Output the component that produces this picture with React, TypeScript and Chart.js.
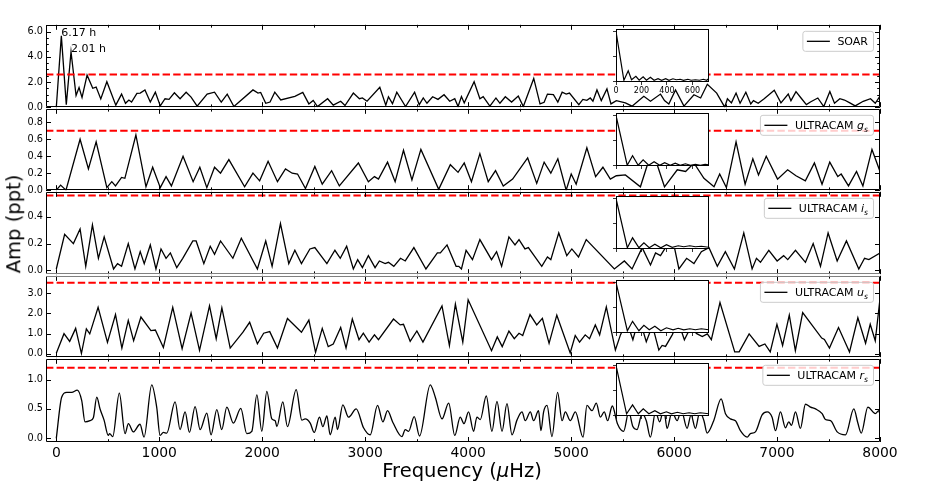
import React, { useEffect, useRef } from 'react';
import { Chart, registerables } from 'chart.js';

Chart.register(...registerables);

const FONT = "'DejaVu Sans', 'Liberation Sans', sans-serif";

// ---------------- data ----------------
const xTickValues = [0, 1000, 2000, 3000, 4000, 5000, 6000, 7000, 8000];
const xMinorTickValues = [500, 1500, 2500, 3500, 4500, 5500, 6500, 7500];
const insetTickValues = [0, 200, 400, 600];

const soarFreq = [0, 49, 97, 143, 192, 221, 250, 299, 354, 387, 432, 491, 578, 634, 672, 705, 731, 783, 815, 861, 913, 962, 1010, 1056, 1095, 1147, 1202, 1261, 1309, 1368, 1465, 1537, 1602, 1660, 1725, 1910, 1959, 1985, 2034, 2076, 2122, 2180, 2317, 2394, 2453, 2495, 2537, 2635, 2690, 2762, 2804, 2885, 2944, 2973, 3018, 3142, 3200, 3226, 3265, 3307, 3392, 3480, 3525, 3564, 3600, 3655, 3707, 3766, 3821, 3870, 3902, 3935, 3962, 4058, 4114, 4146, 4211, 4270, 4309, 4361, 4422, 4487, 4536, 4637, 4698, 4738, 4770, 4828, 4871, 4913, 4952, 4984, 5075, 5114, 5153, 5186, 5212, 5251, 5293, 5348, 5387, 5439, 5527, 5592, 5706, 5771, 5868, 5907, 5949, 6014, 6096, 6193, 6258, 6323, 6414, 6492, 6518, 6557, 6602, 6641, 6697, 6745, 6771, 6817, 6875, 6973, 7038, 7109, 7135, 7184, 7233, 7285, 7324, 7396, 7454, 7513, 7558, 7610, 7655, 7707, 7759, 7837, 7908, 7954, 8000];
const soarAmp = [0.0, 5.66, 0.2, 4.4, 0.93, 1.56, 0.78, 2.54, 1.5, 1.6, 0.65, 2.02, 0.16, 1.04, 0.31, 0.57, 0.41, 1.09, 1.12, 1.37, 0.41, 1.19, 0.1, 0.67, 0.62, 1.14, 0.67, 1.19, 0.8, 0.08, 1.04, 1.19, 0.41, 1.04, 0.05, 1.37, 1.12, 1.17, 0.31, 0.41, 1.19, 0.57, 0.86, 1.17, 0.26, 0.54, 0.05, 0.67, 0.16, 0.47, 0.13, 1.12, 0.67, 0.73, 0.47, 1.58, 0.16, 0.83, 0.28, 1.19, 0.05, 1.19, 0.2, 0.73, 0.31, 0.83, 0.62, 0.99, 0.47, 0.67, 0.05, 0.85, 0.34, 2.02, 0.67, 0.83, 0.08, 0.73, 0.31, 0.83, 0.41, 0.88, 0.05, 2.28, 0.26, 0.39, 1.04, 0.99, 0.41, 1.19, 1.04, 1.12, 0.2, 0.62, 0.54, 0.73, 0.47, 1.37, 0.52, 1.45, 0.26, 0.52, 0.34, 0.08, 0.86, 0.47, 1.04, 0.52, 0.26, 1.37, 0.08, 0.99, 0.73, 1.82, 1.12, 0.0, 0.67, 0.34, 1.12, 0.31, 1.19, 0.26, 0.52, 0.31, 0.67, 1.35, 0.34, 1.04, 0.52, 1.24, 0.73, 0.2, 0.41, 0.73, 0.05, 1.24, 0.31, 0.67, 0.57, 0.34, 0.1, 0.47, 0.67, 0.31, 0.88];

const gsFreq = [0, 42, 94, 231, 312, 387, 491, 539, 575, 634, 666, 773, 871, 936, 1010, 1066, 1118, 1231, 1329, 1394, 1462, 1537, 1595, 1676, 1829, 1910, 1975, 2057, 2148, 2226, 2291, 2343, 2420, 2511, 2583, 2674, 2749, 2934, 3031, 3090, 3129, 3217, 3291, 3372, 3454, 3541, 3714, 3827, 3902, 3962, 4032, 4114, 4195, 4266, 4341, 4432, 4578, 4666, 4738, 4803, 4871, 4952, 5001, 5049, 5153, 5238, 5309, 5381, 5439, 5527, 5673, 5754, 5836, 5907, 6031, 6112, 6193, 6290, 6388, 6443, 6508, 6602, 6690, 6765, 6820, 6895, 7005, 7103, 7184, 7275, 7363, 7437, 7512, 7590, 7623, 7694, 7772, 7834, 7922, 8000];
const gsAmp = [0.0, 0.06, 0.0, 0.6, 0.25, 0.57, 0.03, 0.1, 0.05, 0.15, 0.14, 0.65, 0.04, 0.27, 0.03, 0.16, 0.05, 0.4, 0.1, 0.27, 0.03, 0.27, 0.2, 0.36, 0.04, 0.2, 0.11, 0.34, 0.1, 0.25, 0.2, 0.19, 0.02, 0.28, 0.07, 0.23, 0.05, 0.32, 0.1, 0.16, 0.13, 0.33, 0.1, 0.47, 0.12, 0.48, 0.01, 0.3, 0.21, 0.32, 0.1, 0.43, 0.1, 0.23, 0.05, 0.13, 0.38, 0.08, 0.33, 0.2, 0.37, 0.0, 0.19, 0.07, 0.5, 0.16, 0.27, 0.13, 0.17, 0.18, 0.04, 0.35, 0.3, 0.04, 0.24, 0.22, 0.32, 0.14, 0.04, 0.19, 0.03, 0.57, 0.07, 0.37, 0.18, 0.4, 0.13, 0.24, 0.17, 0.11, 0.32, 0.07, 0.33, 0.16, 0.19, 0.05, 0.22, 0.05, 0.48, 0.22];

const isFreq = [0, 81, 166, 231, 286, 351, 409, 465, 556, 595, 634, 699, 764, 815, 854, 913, 968, 1017, 1066, 1108, 1170, 1228, 1326, 1358, 1433, 1495, 1537, 1595, 1715, 1797, 1953, 2034, 2096, 2177, 2258, 2317, 2381, 2463, 2511, 2628, 2706, 2758, 2820, 2885, 2927, 2973, 3031, 3096, 3138, 3194, 3226, 3278, 3343, 3389, 3473, 3590, 3701, 3730, 3795, 3883, 3909, 3935, 3980, 4042, 4114, 4227, 4276, 4325, 4396, 4455, 4494, 4552, 4585, 4715, 4770, 4803, 4880, 4958, 5007, 5072, 5147, 5420, 5517, 5592, 5690, 5771, 5820, 5868, 5917, 5985, 6047, 6122, 6193, 6265, 6339, 6420, 6498, 6586, 6677, 6758, 6800, 6839, 6920, 7001, 7064, 7104, 7179, 7276, 7351, 7422, 7496, 7584, 7674, 7794, 7850, 7892, 8000];
const isAmp = [0.01, 0.27, 0.2, 0.31, 0.03, 0.34, 0.09, 0.25, 0.01, 0.05, 0.03, 0.2, 0.01, 0.14, 0.05, 0.19, 0.01, 0.16, 0.09, 0.13, 0.02, 0.09, 0.22, 0.22, 0.05, 0.18, 0.12, 0.22, 0.09, 0.24, 0.01, 0.22, 0.03, 0.35, 0.05, 0.15, 0.05, 0.16, 0.17, 0.05, 0.15, 0.09, 0.18, 0.01, 0.08, 0.02, 0.11, 0.02, 0.07, 0.05, 0.06, 0.03, 0.09, 0.07, 0.17, 0.01, 0.13, 0.13, 0.19, 0.03, 0.03, 0.01, 0.15, 0.08, 0.23, 0.08, 0.14, 0.03, 0.25, 0.19, 0.23, 0.16, 0.17, 0.03, 0.1, 0.08, 0.28, 0.11, 0.16, 0.1, 0.23, 0.01, 0.07, 0.01, 0.17, 0.04, 0.13, 0.11, 0.17, 0.24, 0.01, 0.09, 0.05, 0.14, 0.17, 0.03, 0.14, 0.01, 0.28, 0.01, 0.09, 0.06, 0.15, 0.07, 0.11, 0.08, 0.15, 0.06, 0.2, 0.03, 0.28, 0.07, 0.22, 0.01, 0.09, 0.08, 0.13];

const usFreq = [0, 75, 130, 188, 244, 292, 325, 406, 497, 575, 637, 699, 751, 822, 919, 962, 1040, 1131, 1222, 1309, 1391, 1488, 1553, 1608, 1689, 1813, 1878, 1953, 2014, 2073, 2148, 2245, 2381, 2453, 2518, 2583, 2641, 2690, 2762, 2814, 2875, 2940, 2982, 3038, 3090, 3129, 3275, 3340, 3372, 3437, 3502, 3561, 3746, 3818, 3876, 3948, 4000, 4227, 4283, 4331, 4396, 4448, 4494, 4530, 4601, 4666, 4721, 4786, 4861, 4991, 5040, 5082, 5137, 5179, 5235, 5277, 5342, 5430, 5480, 5540, 5600, 5660, 5730, 5790, 5852, 5884, 5917, 5982, 6040, 6100, 6160, 6220, 6274, 6323, 6362, 6446, 6589, 6632, 6729, 6826, 6882, 6934, 6999, 7054, 7119, 7178, 7249, 7434, 7460, 7509, 7597, 7704, 7785, 7860, 7905, 7954, 8000];
const usAmp = [0.03, 1.0, 0.62, 1.26, 0.02, 1.23, 0.99, 2.3, 0.57, 1.94, 0.29, 1.65, 0.65, 1.82, 1.15, 1.18, 0.32, 2.29, 0.26, 2.01, 0.18, 2.37, 0.75, 2.27, 0.29, 1.07, 1.56, 0.5, 1.02, 1.1, 0.29, 1.75, 1.07, 1.67, 0.08, 1.26, 0.36, 0.49, 1.3, 0.29, 1.72, 0.7, 1.02, 0.58, 0.94, 0.7, 1.72, 1.43, 1.46, 0.62, 1.13, 0.58, 2.37, 0.41, 2.45, 0.58, 2.67, 0.16, 0.84, 0.36, 1.13, 0.75, 1.02, 0.91, 1.94, 1.43, 1.75, 0.52, 1.91, 0.05, 0.91, 0.58, 0.94, 0.75, 1.43, 0.94, 2.32, 0.19, 0.95, 1.6, 0.7, 1.8, 0.6, 1.4, 0.19, 0.42, 0.37, 0.94, 1.6, 0.7, 1.3, 1.0, 0.86, 0.99, 0.7, 2.53, 0.1, 0.1, 0.99, 0.37, 0.49, 0.1, 1.46, 0.42, 1.91, 0.16, 2.04, 0.78, 0.71, 0.29, 1.3, 0.1, 1.78, 0.53, 1.46, 0.65, 2.72];

const rsFreq = [0, 52, 101, 150, 204, 247, 279, 328, 360, 393, 425, 464, 505, 518, 548, 612, 668, 700, 748, 813, 852, 927, 975, 1008, 1040, 1073, 1154, 1202, 1251, 1293, 1348, 1397, 1462, 1503, 1559, 1607, 1656, 1720, 1792, 1850, 1899, 1948, 1996, 2045, 2093, 2126, 2142, 2200, 2245, 2330, 2385, 2417, 2466, 2505, 2556, 2589, 2628, 2660, 2709, 2731, 2783, 2838, 2913, 2984, 3049, 3120, 3172, 3217, 3269, 3357, 3389, 3422, 3476, 3528, 3632, 3681, 3746, 3811, 3870, 3923, 3960, 4004, 4053, 4085, 4118, 4176, 4231, 4280, 4329, 4377, 4426, 4474, 4523, 4555, 4604, 4636, 4684, 4707, 4733, 4766, 4814, 4869, 4912, 4944, 4992, 5041, 5116, 5154, 5203, 5245, 5284, 5322, 5355, 5400, 5450, 5510, 5560, 5600, 5640, 5690, 5730, 5770, 5820, 5860, 5900, 5932, 5980, 6030, 6070, 6126, 6165, 6207, 6250, 6290, 6321, 6385, 6457, 6499, 6547, 6596, 6644, 6710, 6741, 6790, 6855, 6904, 6952, 6985, 7033, 7082, 7114, 7140, 7179, 7227, 7276, 7325, 7374, 7438, 7470, 7520, 7584, 7665, 7746, 7785, 7818, 7882, 7955, 7988, 8000];
const rsAmp = [0.0, 0.7, 0.78, 0.78, 0.82, 0.64, 0.28, 0.3, 0.35, 0.7, 0.5, 0.31, 0.05, 0.08, 0.03, 0.77, 0.08, 0.25, 0.11, 0.24, 0.02, 0.91, 0.53, 0.05, 0.1, 0.09, 0.62, 0.15, 0.45, 0.1, 0.54, 0.15, 0.43, 0.06, 0.49, 0.15, 0.53, 0.26, 0.51, 0.08, 0.12, 0.74, 0.12, 0.8, 0.33, 0.3, 0.2, 0.62, 0.2, 0.83, 0.31, 0.33, 0.26, 0.1, 0.36, 0.2, 0.38, 0.06, 0.36, 0.15, 0.57, 0.36, 0.5, 0.18, 0.06, 0.56, 0.28, 0.47, 0.27, 0.03, 0.15, 0.12, 0.37, 0.04, 0.91, 0.7, 0.33, 0.6, 0.05, 0.36, 0.25, 0.45, 0.12, 0.36, 0.32, 0.72, 0.12, 0.63, 0.12, 0.59, 0.06, 0.31, 0.45, 0.3, 0.45, 0.3, 0.47, 0.13, 0.45, 0.56, 0.03, 0.78, 0.3, 0.45, 0.3, 0.45, 0.02, 0.56, 0.47, 0.6, 0.36, 0.45, 0.3, 0.55, 0.25, 0.12, 0.45, 0.2, 0.15, 0.42, 0.3, 0.02, 0.45, 0.28, 0.5, 0.17, 0.45, 0.3, 0.48, 0.17, 0.4, 0.17, 0.45, 0.3, 0.09, 0.3, 0.67, 0.42, 0.33, 0.3, 0.13, 0.02, 0.08, 0.11, 0.4, 0.45, 0.36, 0.13, 0.45, 0.18, 0.28, 0.22, 0.45, 0.17, 0.58, 0.53, 0.5, 0.42, 0.32, 0.3, 0.11, 0.06, 0.5, 0.26, 0.09, 0.53, 0.42, 0.47, 0.4];

// spectral windows (insets)
const soarWinFreq = [0, 62, 96, 122, 156, 182, 213, 239, 270, 299, 330, 358, 390, 416, 447, 473, 504, 530, 564, 590, 623, 655, 686, 712, 727];
const soarWinAmp = [1.0, 0.02, 0.21, 0.03, 0.1, 0.02, 0.09, 0.02, 0.08, 0.02, 0.05, 0.02, 0.05, 0.02, 0.05, 0.03, 0.04, 0.02, 0.04, 0.02, 0.03, 0.02, 0.04, 0.02, 0.05];
const gsWinFreq = [0, 88, 130, 174, 213, 257, 299, 343, 382, 426, 465, 504, 545, 584, 623, 662, 700, 727];
const gsWinAmp = [1.0, 0.0, 0.19, 0.0, 0.11, 0.0, 0.07, 0.0, 0.05, 0.0, 0.04, 0.0, 0.03, 0.0, 0.02, 0.0, 0.02, 0.01];
const isWinFreq = [0, 89, 130, 180, 219, 261, 305, 352, 396, 441, 488, 532, 579, 623, 670, 727];
const isWinAmp = [1.0, 0.01, 0.21, 0.01, 0.11, 0.01, 0.08, 0.01, 0.07, 0.02, 0.05, 0.03, 0.05, 0.03, 0.04, 0.02];
const usWinFreq = [0, 89, 130, 180, 219, 261, 305, 352, 396, 448, 488, 532, 579, 623, 670, 727];
const usWinAmp = [1.0, 0.03, 0.22, 0.03, 0.14, 0.05, 0.12, 0.03, 0.09, 0.05, 0.08, 0.05, 0.07, 0.05, 0.07, 0.05];
const rsWinFreq = [0, 83, 130, 175, 214, 258, 305, 349, 396, 435, 482, 527, 574, 618, 662, 727];
const rsWinAmp = [1.0, 0.03, 0.21, 0.03, 0.13, 0.03, 0.09, 0.03, 0.07, 0.03, 0.06, 0.03, 0.05, 0.03, 0.05, 0.03];

// annotations in the SOAR panel
const noteLabels = ['6.17 h', '2.01 h'];
const noteFreq = [49, 143];
const noteAmp = [5.66, 4.4];

// thresholds
const thresholds = [2.6, 0.7, 0.56, 3.51, 1.2];

// ---------------- layout ----------------
const X_MIN = -100;
const X_MAX = 8000;
const PAGE_W = 926;
const PLOT_LEFT = 46;
const PLOT_RIGHT = 880;
const PAD = 8;
const INSET_LEFT = 616;
const INSET_W = 93;
const INSET_H = 53;

type Part = { t: string; it?: boolean; sub?: boolean };
interface PanelCfg {
  key: string;
  top: number;
  bottom: number;
  freq: number[];
  amp: number[];
  yMin: number;
  yMax: number;
  yTicks: number[];
  yMinor: number[];
  threshold: number;
  legend: Part[];
  smooth: boolean;
  bottomAxis: boolean;
  topSpine: string;
  bottomSpine: string;
  notes: boolean;
  winFreq: number[];
  winAmp: number[];
  winLabels: boolean;
}

const panels: PanelCfg[] = [
  { key: 'soar', top: 24, bottom: 108, freq: soarFreq, amp: soarAmp, yMin: 0, yMax: 6.54, yTicks: [0, 2, 4, 6], yMinor: [0.5, 1, 1.5, 2.5, 3, 3.5, 4.5, 5, 5.5, 6.5], threshold: thresholds[0], legend: [{ t: 'SOAR' }], smooth: false, bottomAxis: false, topSpine: '#000', bottomSpine: '#000', notes: true, winFreq: soarWinFreq, winAmp: soarWinAmp, winLabels: true },
  { key: 'gs', top: 108, bottom: 191, freq: gsFreq, amp: gsAmp, yMin: 0, yMax: 0.958, yTicks: [0, 0.2, 0.4, 0.6, 0.8], yMinor: [], threshold: thresholds[1], legend: [{ t: 'ULTRACAM ' }, { t: 'g', it: true }, { t: 's', it: true, sub: true }], smooth: false, bottomAxis: false, topSpine: '#000', bottomSpine: '#000', notes: false, winFreq: gsWinFreq, winAmp: gsWinAmp, winLabels: false },
  { key: 'is', top: 191, bottom: 275, freq: isFreq, amp: isAmp, yMin: -0.029, yMax: 0.588, yTicks: [0, 0.2, 0.4], yMinor: [], threshold: thresholds[2], legend: [{ t: 'ULTRACAM ' }, { t: 'i', it: true }, { t: 's', it: true, sub: true }], smooth: false, bottomAxis: false, topSpine: '#000', bottomSpine: '#808080', notes: false, winFreq: isWinFreq, winAmp: isWinAmp, winLabels: false },
  { key: 'us', top: 275, bottom: 358, freq: usFreq, amp: usAmp, yMin: -0.16, yMax: 3.85, yTicks: [0, 1, 2, 3], yMinor: [], threshold: thresholds[3], legend: [{ t: 'ULTRACAM ' }, { t: 'u', it: true }, { t: 's', it: true, sub: true }], smooth: false, bottomAxis: false, topSpine: '#808080', bottomSpine: '#000', notes: false, winFreq: usWinFreq, winAmp: usWinAmp, winLabels: false },
  { key: 'rs', top: 358, bottom: 442, freq: rsFreq, amp: rsAmp, yMin: -0.062, yMax: 1.352, yTicks: [0, 0.5, 1.0], yMinor: [], threshold: thresholds[4], legend: [{ t: 'ULTRACAM ' }, { t: 'r', it: true }, { t: 's', it: true, sub: true }], smooth: true, bottomAxis: true, topSpine: '#000', bottomSpine: '#000', notes: false, winFreq: rsWinFreq, winAmp: rsWinAmp, winLabels: false },
];

const X_AXIS_H = 22;
const canvasHeight = (p: PanelCfg) => (p.bottom - p.top) + PAD + (p.bottomAxis ? X_AXIS_H + 2 : PAD);

// ---------------- drawing helpers ----------------
function roundRectPath(ctx: CanvasRenderingContext2D, x: number, y: number, w: number, h: number, r: number) {
  ctx.beginPath();
  ctx.moveTo(x + r, y);
  ctx.lineTo(x + w - r, y);
  ctx.arcTo(x + w, y, x + w, y + r, r);
  ctx.lineTo(x + w, y + h - r);
  ctx.arcTo(x + w, y + h, x + w - r, y + h, r);
  ctx.lineTo(x + r, y + h);
  ctx.arcTo(x, y + h, x, y + h - r, r);
  ctx.lineTo(x, y + r);
  ctx.arcTo(x, y, x + r, y, r);
  ctx.closePath();
}

function panelDecor(p: PanelCfg) {
  return {
    id: 'panelDecor',
    afterDatasetsDraw(chart: any) {
      const ctx: CanvasRenderingContext2D = chart.ctx;
      const a = chart.chartArea;
      const xs = chart.scales.x;
      const ys = chart.scales.y;
      ctx.save();
      // ticks (inward, all four sides)
      ctx.strokeStyle = '#000';
      ctx.lineWidth = 1;
      ctx.beginPath();
      const xt = (vals: number[], len: number) => {
        vals.forEach((v) => {
          const px = Math.round(xs.getPixelForValue(v)) + 0.5;
          ctx.moveTo(px, a.bottom);
          ctx.lineTo(px, a.bottom - len);
          ctx.moveTo(px, a.top);
          ctx.lineTo(px, a.top + len);
        });
      };
      const yt = (vals: number[], len: number) => {
        vals.forEach((v) => {
          const py = Math.round(ys.getPixelForValue(v)) + 0.5;
          ctx.moveTo(a.left, py);
          ctx.lineTo(a.left + len, py);
          ctx.moveTo(a.right, py);
          ctx.lineTo(a.right - len, py);
        });
      };
      xt(xTickValues, 5);
      xt(xMinorTickValues, 2.8);
      yt(p.yTicks, 5);
      yt(p.yMinor, 2.8);
      ctx.stroke();

      // frame
      const L = Math.round(a.left) + 0.5;
      const R = Math.round(a.right) - 0.5;
      const T = Math.round(a.top) + 0.5;
      const B = Math.round(a.bottom) - 0.5;
      ctx.strokeStyle = '#000';
      ctx.beginPath();
      ctx.moveTo(L, T); ctx.lineTo(L, B);
      ctx.moveTo(R, T); ctx.lineTo(R, B);
      ctx.stroke();
      ctx.strokeStyle = p.topSpine;
      ctx.beginPath(); ctx.moveTo(L, T); ctx.lineTo(R, T); ctx.stroke();
      ctx.strokeStyle = p.bottomSpine;
      ctx.beginPath(); ctx.moveTo(L, B); ctx.lineTo(R, B); ctx.stroke();

      // annotations
      if (p.notes) {
        ctx.fillStyle = '#000';
        ctx.font = `11px ${FONT}`;
        ctx.textAlign = 'left';
        ctx.textBaseline = 'alphabetic';
        noteLabels.forEach((lab, i) => {
          ctx.fillText(lab, xs.getPixelForValue(noteFreq[i]), ys.getPixelForValue(noteAmp[i]));
        });
      }

      // legend
      const fs = 11;
      const fontOf = (pt: Part) => pt.sub ? `italic ${fs * 0.7}px ${FONT}` : pt.it ? `italic ${fs}px ${FONT}` : `${fs}px ${FONT}`;
      let tw = 0;
      p.legend.forEach((pt) => { ctx.font = fontOf(pt); tw += ctx.measureText(pt.t).width; });
      const h = 20;
      const w = 35 + tw + 5;
      const right = a.right - 7;
      const left = right - w;
      const top = a.top + 6;
      roundRectPath(ctx, left + 0.5, top + 0.5, w, h, 2.5);
      ctx.fillStyle = 'rgba(255,255,255,0.8)';
      ctx.fill();
      ctx.strokeStyle = '#cccccc';
      ctx.lineWidth = 1;
      ctx.stroke();
      ctx.strokeStyle = '#000';
      ctx.lineWidth = 1.3;
      ctx.beginPath();
      ctx.moveTo(left + 4.5, top + 10.5);
      ctx.lineTo(left + 27.5, top + 10.5);
      ctx.stroke();
      ctx.fillStyle = '#000';
      ctx.textAlign = 'left';
      ctx.textBaseline = 'alphabetic';
      let tx = left + 35;
      const base = top + 14.5;
      p.legend.forEach((pt) => {
        ctx.font = fontOf(pt);
        ctx.fillText(pt.t, tx, pt.sub ? base + 2.5 : base);
        tx += ctx.measureText(pt.t).width;
      });
      ctx.restore();
    },
  };
}

function createPanel(canvas: HTMLCanvasElement, p: PanelCfg) {
  return new Chart(canvas, {
    type: 'line',
    data: {
      datasets: [
        {
          data: p.freq.map((f, i) => ({ x: f, y: p.amp[i] })),
          borderColor: '#000',
          borderWidth: 1.3,
          pointRadius: 0,
          fill: false,
          tension: p.smooth ? 0.4 : 0,
          cubicInterpolationMode: p.smooth ? 'monotone' : 'default',
          order: 1,
        },
        {
          data: [{ x: X_MIN, y: p.threshold }, { x: X_MAX, y: p.threshold }],
          borderColor: '#ff0000',
          borderWidth: 2,
          borderDash: [7.4, 3.2],
          pointRadius: 0,
          fill: false,
          order: 0,
        },
      ],
    },
    options: {
      animation: false,
      responsive: false,
      events: [],
      layout: { autoPadding: false, padding: { left: 0, right: PAGE_W - PLOT_RIGHT, top: PAD, bottom: p.bottomAxis ? 2 : PAD } },
      plugins: { legend: { display: false }, tooltip: { enabled: false } },
      scales: {
        x: {
          type: 'linear',
          min: X_MIN,
          max: X_MAX,
          display: p.bottomAxis,
          afterBuildTicks: (s: any) => { s.ticks = xTickValues.map((v) => ({ value: v })); },
          afterFit: (s: any) => { s.height = p.bottomAxis ? X_AXIS_H : 0; },
          ticks: { font: { family: FONT, size: 13.9 }, color: '#000', padding: 3, maxRotation: 0, autoSkip: false, callback: (v: any) => String(v) },
          grid: { display: false, drawTicks: false },
          border: { display: false },
        },
        y: {
          type: 'linear',
          min: p.yMin,
          max: p.yMax,
          afterBuildTicks: (s: any) => { s.ticks = p.yTicks.map((v) => ({ value: v })); },
          afterFit: (s: any) => { s.width = PLOT_LEFT; },
          ticks: { font: { family: FONT, size: 9.7 }, color: '#000', padding: 3, callback: (v: any) => Number(v).toFixed(1) },
          grid: { display: false, drawTicks: false },
          border: { display: false },
        },
      },
    } as any,
    plugins: [panelDecor(p)],
  });
}

const insetDecor = {
  id: 'insetDecor',
  beforeDatasetsDraw(chart: any) {
    const { ctx, chartArea: a } = chart;
    ctx.save();
    ctx.fillStyle = '#fff';
    ctx.fillRect(a.left, a.top, a.right - a.left, a.bottom - a.top);
    ctx.restore();
  },
  afterDatasetsDraw(chart: any) {
    const { ctx, chartArea: a } = chart;
    ctx.save();
    ctx.strokeStyle = '#000';
    ctx.lineWidth = 1;
    ctx.strokeRect(Math.round(a.left) + 0.5, Math.round(a.top) + 0.5, Math.round(a.right - a.left) - 1, Math.round(a.bottom - a.top) - 1);
    ctx.restore();
  },
};

const INSET_PAD_L = 12;
const INSET_PAD_R = 4;
const INSET_PAD_T = 4;
const insetAxisH = (p: PanelCfg) => (p.winLabels ? 16 : 6);
const insetTop = (p: PanelCfg) => p.top + 5;

function createInset(canvas: HTMLCanvasElement, p: PanelCfg) {
  return new Chart(canvas, {
    type: 'line',
    data: {
      datasets: [
        {
          data: p.winFreq.map((f, i) => ({ x: f, y: p.winAmp[i] })),
          borderColor: '#000',
          borderWidth: 1.2,
          pointRadius: 0,
          fill: false,
          tension: 0,
        },
      ],
    },
    options: {
      animation: false,
      responsive: false,
      events: [],
      layout: { autoPadding: false, padding: { left: 0, right: INSET_PAD_R, top: INSET_PAD_T, bottom: 0 } },
      plugins: { legend: { display: false }, tooltip: { enabled: false } },
      scales: {
        x: {
          type: 'linear',
          min: 0,
          max: 730,
          afterBuildTicks: (s: any) => { s.ticks = insetTickValues.map((v) => ({ value: v })); },
          afterFit: (s: any) => { s.height = insetAxisH(p); },
          ticks: { display: p.winLabels, font: { family: FONT, size: 8 }, color: '#000', padding: 1, maxRotation: 0, autoSkip: false, callback: (v: any) => String(v) },
          grid: { display: true, drawOnChartArea: false, drawTicks: true, tickLength: 3, color: '#000', lineWidth: 0.8 },
          border: { display: false },
        },
        y: {
          type: 'linear',
          min: -0.015,
          max: 1.05,
          afterBuildTicks: (s: any) => { s.ticks = [0, 0.5, 1].map((v) => ({ value: v })); },
          afterFit: (s: any) => { s.width = INSET_PAD_L; },
          ticks: { display: false },
          grid: { display: true, drawOnChartArea: false, drawTicks: true, tickLength: 3, color: '#000', lineWidth: 0.8 },
          border: { display: false },
        },
      },
    } as any,
    plugins: [insetDecor],
  });
}

export default function App() {
  const panelRefs = useRef<(HTMLCanvasElement | null)[]>([]);
  const insetRefs = useRef<(HTMLCanvasElement | null)[]>([]);

  useEffect(() => {
    const charts: Chart[] = [];
    panels.forEach((p, i) => {
      const c = panelRefs.current[i];
      if (c) charts.push(createPanel(c, p));
    });
    panels.forEach((p, i) => {
      const c = insetRefs.current[i];
      if (c) charts.push(createInset(c, p));
    });
    return () => charts.forEach((c) => c.destroy());
  }, []);

  return (
    <div style={{ position: 'absolute', left: 0, top: 0, width: PAGE_W, height: 491, background: '#fff', overflow: 'hidden', fontFamily: FONT, color: '#000' }}>
      {panels.map((p, i) => {
        const h = canvasHeight(p);
        return (
          <canvas
            key={p.key}
            ref={(el) => { panelRefs.current[i] = el; }}
            width={PAGE_W}
            height={h}
            style={{ position: 'absolute', left: 0, top: p.top - PAD, width: PAGE_W, height: h }}
          />
        );
      })}
      {panels.map((p, i) => {
        const w = INSET_PAD_L + INSET_W + INSET_PAD_R;
        const h = INSET_PAD_T + INSET_H + insetAxisH(p);
        return (
          <canvas
            key={'inset-' + p.key}
            ref={(el) => { insetRefs.current[i] = el; }}
            width={w}
            height={h}
            style={{ position: 'absolute', left: INSET_LEFT - INSET_PAD_L, top: insetTop(p) - INSET_PAD_T, width: w, height: h }}
          />
        );
      })}
      <div style={{ position: 'absolute', left: 14, top: 224, transform: 'translate(-50%, -50%) rotate(-90deg)', whiteSpace: 'nowrap', fontSize: 19.5, lineHeight: 1 }}>
        Amp (ppt)
      </div>
      <div style={{ position: 'absolute', left: 462, top: 461, transform: 'translateX(-50%)', whiteSpace: 'nowrap', fontSize: 19.5, lineHeight: 1 }}>
        Frequency (<i>μ</i>Hz)
      </div>
    </div>
  );
}
